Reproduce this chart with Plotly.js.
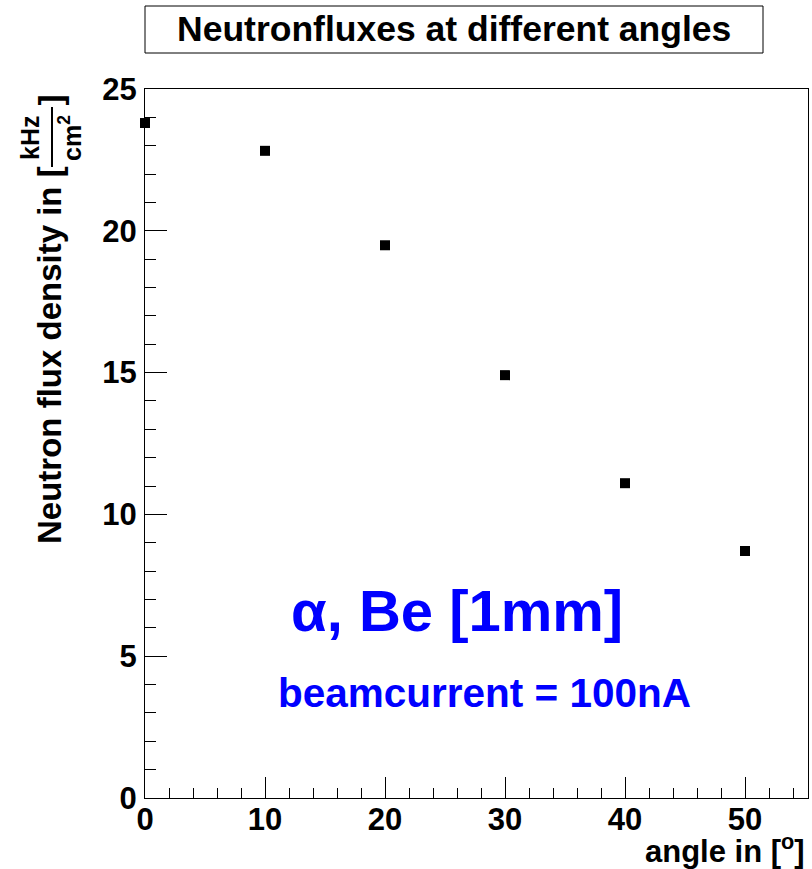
<!DOCTYPE html>
<html>
<head>
<meta charset="utf-8">
<script src="https://cdn.plot.ly/plotly-3.0.1.min.js"></script>
<style>html,body{margin:0;padding:0;background:#fff;}</style>
</head>
<body>
<div id="chart" style="width:812px;height:869px;"></div>
<script>
// Data
const angles = [0, 10, 20, 30, 40, 50];
const fluxDensity = [23.8, 22.82, 19.49, 14.91, 11.10, 8.71];
const xTickVals = [0, 10, 20, 30, 40, 50];
const yTickVals = [0, 5, 10, 15, 20, 25];

const FONT = 'Liberation Sans, Arial, Helvetica, sans-serif';
const L = 145, R = 808, T = 89, B = 798, W = 812, H = 869;
const px = v => (v - L) / (R - L);
const py = v => (B - v) / (B - T);

const trace = {
  x: angles, y: fluxDensity, type: 'scatter', mode: 'markers',
  marker: {symbol: 'square', size: 10, color: '#000'},
  cliponaxis: false, showlegend: false
};

const axisCommon = {
  showgrid: false, zeroline: false, showline: true, mirror: true,
  linecolor: '#000', linewidth: 1, ticks: 'inside', tickcolor: '#000',
  tickwidth: 1, tickfont: {family: FONT, size: 31, color: '#000', weight: 'bold'}
};

const layout = {
  width: W, height: H,
  margin: {l: L, r: W - R, t: T, b: H - B, pad: 0},
  paper_bgcolor: '#fff', plot_bgcolor: '#fff',
  xaxis: Object.assign({}, axisCommon, {
    range: [0, 55.25], tickvals: xTickVals, ticklen: 21,
    minor: {dtick: 2, ticklen: 10, ticks: 'inside', tickcolor: '#000', tickwidth: 1, showgrid: false},
    ticklabelstandoff: -6
  }),
  yaxis: Object.assign({}, axisCommon, {
    range: [0, 25], tickvals: yTickVals, ticklen: 22,
    minor: {dtick: 1, ticklen: 11, ticks: 'inside', tickcolor: '#000', tickwidth: 1, showgrid: false},
    ticklabelstandoff: 1
  }),
  shapes: [
    {type: 'rect', xref: 'paper', yref: 'paper', x0: px(145), x1: px(763), y0: py(6), y1: py(53),
     line: {color: '#000', width: 1}, fillcolor: 'rgba(0,0,0,0)'},
    {type: 'line', xref: 'paper', yref: 'paper', x0: px(52), x1: px(52), y0: py(107), y1: py(167),
     line: {color: '#000', width: 2}}
  ],
  annotations: [
    {xref: 'paper', yref: 'paper', x: px(454), y: py(29), text: 'Neutronfluxes at different angles',
     showarrow: false, xanchor: 'center', yanchor: 'middle',
     font: {family: FONT, size: 35.5, color: '#000', weight: 'bold'}},
    {xref: 'paper', yref: 'paper', x: px(50), y: py(164), text: 'Neutron flux density in [',
     textangle: -90, showarrow: false, xanchor: 'center', yanchor: 'top',
     font: {family: FONT, size: 33, color: '#000', weight: 'bold'}},
    {xref: 'paper', yref: 'paper', x: px(30), y: py(138), text: 'kHz',
     textangle: -90, showarrow: false, xanchor: 'center', yanchor: 'middle',
     font: {family: FONT, size: 25, color: '#000', weight: 'bold'}},
    {xref: 'paper', yref: 'paper', x: px(70), y: py(138), text: 'cm<sup>2</sup>',
     textangle: -90, showarrow: false, xanchor: 'center', yanchor: 'middle',
     font: {family: FONT, size: 25, color: '#000', weight: 'bold'}},
    {xref: 'paper', yref: 'paper', x: px(50), y: py(108), text: ']',
     textangle: -90, showarrow: false, xanchor: 'center', yanchor: 'bottom',
     font: {family: FONT, size: 33, color: '#000', weight: 'bold'}},
    {xref: 'paper', yref: 'paper', x: px(807), y: py(849), text: 'angle in [<sup>o</sup>]',
     showarrow: false, xanchor: 'right', yanchor: 'middle',
     font: {family: FONT, size: 31, color: '#000', weight: 'bold'}},
    {xref: 'paper', yref: 'paper', x: px(457), y: py(610), text: 'α, Be [1mm]',
     showarrow: false, xanchor: 'center', yanchor: 'middle',
     font: {family: FONT, size: 58, color: '#0000ff', weight: 'bold'}},
    {xref: 'paper', yref: 'paper', x: px(484), y: py(693), text: 'beamcurrent = 100nA',
     showarrow: false, xanchor: 'center', yanchor: 'middle',
     font: {family: FONT, size: 40.5, color: '#0000ff', weight: 'bold'}}
  ]
};

Plotly.newPlot('chart', [trace], layout, {displayModeBar: false, staticPlot: true});
</script>
</body>
</html>
